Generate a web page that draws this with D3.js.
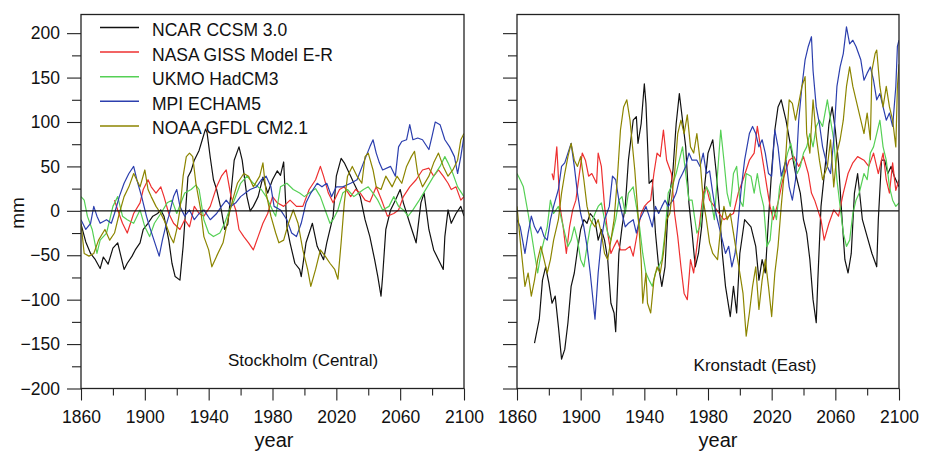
<!DOCTYPE html>
<html>
<head>
<meta charset="utf-8">
<script src="https://cdn.jsdelivr.net/npm/d3@7"></script>
<style>
  body { margin: 0; background: #fff; }
  svg { display: block; font-family: "Liberation Sans", Arial, sans-serif; }
</style>
</head>
<body>
<div id="chart"></div>
<script>
// sea level anomaly (mm) per model, [year, mm]
const seriesNames = ["NCAR CCSM 3.0", "NASA GISS Model E-R", "UKMO HadCM3", "MPI ECHAM5", "NOAA GFDL CM2.1"];
const seriesColors = ["#111111", "#ee3030", "#55d055", "#2c3fae", "#8c8500"];

const stockholmNcar = [[1860,-15],[1863,-35],[1866,-48],[1869,-55],[1872,-65],[1874,-52],[1877,-60],[1880,-42],[1883,-36],[1885,-51],[1887,-66],[1889,-59],[1892,-51],[1894,-44],[1897,-36],[1899,-21],[1902,-14],[1905,-6],[1908,-3],[1910,1],[1912,-6],[1915,-33],[1917,-59],[1919,-74],[1922,-78],[1924,-40],[1927,38],[1929,45],[1931,57],[1934,68],[1936,80],[1938,92],[1939,88],[1941,60],[1943,35],[1945,24],[1948,0],[1950,-21],[1952,-15],[1954,20],[1956,57],[1959,72],[1961,57],[1964,16],[1966,0],[1968,5],[1971,16],[1974,38],[1977,20],[1980,35],[1983,45],[1985,40],[1987,55],[1989,-18],[1991,-36],[1994,-59],[1997,-66],[1998,-74],[2001,-36],[2005,-14],[2008,-40],[2012,-55],[2014,-36],[2018,-6],[2020,39],[2023,59],[2025,54],[2029,39],[2031,31],[2035,16],[2038,-10],[2041,-29],[2044,-55],[2046,-74],[2048,-96],[2049,-74],[2051,-21],[2054,1],[2057,12],[2060,24],[2062,9],[2066,-14],[2070,-36],[2073,9],[2075,20],[2078,-21],[2081,-44],[2084,-55],[2087,-66],[2088,-29],[2090,1],[2092,-14],[2095,-3],[2098,5],[2100,-6]];
const stockholmNasa = [[1881,12],[1883,1],[1886,-14],[1889,-25],[1891,-14],[1893,-3],[1897,9],[1899,24],[1902,35],[1904,27],[1907,20],[1910,27],[1912,16],[1915,-3],[1918,-14],[1922,-21],[1925,-10],[1928,-18],[1931,5],[1934,-3],[1937,-6],[1941,5],[1945,27],[1948,39],[1951,46],[1954,16],[1957,1],[1959,-21],[1962,-29],[1965,-36],[1968,-44],[1971,-29],[1974,-14],[1977,-3],[1980,16],[1983,9],[1987,5],[1991,12],[1995,5],[1999,5],[2003,24],[2007,35],[2010,50],[2012,39],[2015,20],[2018,9],[2022,24],[2025,27],[2029,16],[2032,24],[2035,20],[2038,12],[2041,10],[2045,27],[2049,9],[2052,-6],[2056,-3],[2059,1],[2062,16],[2066,27],[2070,35],[2074,46],[2078,48],[2081,39],[2084,46],[2087,39],[2090,31],[2092,24],[2095,27],[2098,12],[2100,16]];
const stockholmUkmo = [[1860,16],[1862,12],[1864,-6],[1867,-21],[1870,-48],[1872,-33],[1876,-25],[1880,5],[1883,16],[1886,-6],[1889,-10],[1893,-14],[1897,1],[1900,-18],[1903,-29],[1906,-14],[1910,-3],[1914,9],[1917,12],[1920,-3],[1925,20],[1929,24],[1932,29],[1934,24],[1937,-10],[1940,-25],[1943,-29],[1947,-25],[1950,-14],[1953,1],[1956,12],[1960,31],[1964,39],[1968,31],[1973,24],[1976,16],[1980,1],[1982,-6],[1985,27],[1989,31],[1993,24],[1997,20],[2000,16],[2003,20],[2007,25],[2010,16],[2013,1],[2016,-14],[2018,-10],[2021,1],[2024,20],[2027,24],[2031,16],[2034,20],[2037,24],[2040,27],[2043,20],[2046,12],[2049,1],[2053,5],[2056,16],[2059,5],[2062,1],[2065,-6],[2068,1],[2072,12],[2077,27],[2081,39],[2085,50],[2088,61],[2090,54],[2093,42],[2096,27],[2100,16]];
const stockholmMpi = [[1860,-10],[1863,-21],[1866,-14],[1868,5],[1870,-6],[1872,-14],[1876,-10],[1879,-14],[1881,-3],[1884,16],[1887,31],[1890,42],[1893,50],[1895,35],[1898,16],[1901,-6],[1903,-18],[1905,-29],[1907,-40],[1909,-51],[1911,-33],[1913,-18],[1915,-6],[1918,16],[1920,24],[1922,5],[1925,-6],[1928,1],[1931,-10],[1934,-3],[1937,1],[1941,-10],[1945,-3],[1948,5],[1951,12],[1954,5],[1957,9],[1960,16],[1963,20],[1966,24],[1970,27],[1973,35],[1976,39],[1979,27],[1981,5],[1985,1],[1989,-10],[1992,-25],[1995,-29],[1998,-14],[2001,9],[2004,20],[2008,31],[2011,27],[2014,31],[2017,16],[2020,27],[2024,27],[2029,31],[2033,35],[2037,54],[2041,72],[2043,80],[2045,65],[2047,54],[2049,46],[2054,50],[2057,39],[2059,72],[2061,78],[2064,80],[2066,97],[2068,80],[2071,82],[2074,80],[2078,69],[2080,84],[2082,100],[2085,97],[2088,80],[2091,72],[2094,61],[2096,42],[2098,61],[2100,84]];
const stockholmNoaa = [[1860,-14],[1862,-48],[1865,-51],[1868,-48],[1871,-33],[1875,-21],[1878,-33],[1881,-25],[1884,-3],[1887,16],[1890,27],[1893,42],[1897,27],[1900,46],[1902,24],[1904,16],[1907,5],[1910,-3],[1913,-14],[1916,-29],[1918,-36],[1920,-21],[1922,1],[1924,39],[1926,61],[1928,65],[1930,61],[1932,31],[1935,1],[1937,-29],[1940,-44],[1942,-63],[1945,-51],[1949,-36],[1952,-10],[1955,12],[1958,31],[1962,42],[1965,39],[1968,27],[1972,39],[1974,54],[1976,20],[1979,-6],[1982,-25],[1984,-36],[1987,-33],[1990,-14],[1993,1],[1996,-14],[1999,-44],[2002,-66],[2004,-85],[2007,-66],[2010,-44],[2013,-51],[2016,-59],[2019,-66],[2021,-77],[2023,-36],[2025,9],[2027,39],[2030,50],[2033,39],[2036,31],[2038,61],[2040,65],[2043,46],[2045,27],[2048,24],[2051,39],[2055,27],[2058,39],[2061,31],[2064,50],[2067,61],[2069,67],[2071,42],[2074,27],[2078,39],[2081,54],[2084,65],[2087,50],[2090,39],[2093,46],[2096,57],[2098,80],[2100,87]];

const kronstadtNcar = [[1871,-149],[1874,-122],[1876,-78],[1878,-63],[1880,-81],[1882,-104],[1884,-96],[1886,-130],[1888,-167],[1890,-156],[1892,-126],[1894,-85],[1896,-70],[1898,-44],[1900,-21],[1902,-10],[1904,-14],[1906,-3],[1909,-10],[1911,-33],[1913,-21],[1915,-33],[1917,-55],[1919,-104],[1921,-115],[1922,-136],[1924,-48],[1926,-18],[1928,5],[1930,57],[1933,102],[1935,106],[1936,76],[1938,98],[1940,143],[1941,121],[1943,31],[1945,35],[1947,-25],[1949,-63],[1951,-85],[1953,-63],[1955,5],[1958,46],[1960,98],[1962,132],[1964,102],[1966,72],[1968,9],[1970,-25],[1972,-63],[1974,-48],[1976,-18],[1978,30],[1980,65],[1983,80],[1985,46],[1987,5],[1989,-48],[1991,-85],[1994,-119],[1996,-85],[1998,-115],[2000,-48],[2003,-10],[2007,-18],[2010,-40],[2012,-78],[2014,-55],[2016,-70],[2018,-10],[2020,46],[2022,91],[2024,117],[2026,125],[2029,102],[2032,72],[2035,42],[2038,20],[2040,-10],[2042,-25],[2044,-55],[2046,-100],[2048,-126],[2049,-78],[2051,5],[2054,57],[2056,98],[2058,117],[2060,91],[2062,54],[2064,-3],[2066,-55],[2068,-70],[2070,-48],[2072,20],[2074,42],[2077,-10],[2080,-29],[2083,-48],[2086,-63],[2087,-10],[2089,57],[2091,57],[2093,42],[2095,50],[2097,39],[2100,27]];
const kronstadtNasa = [[1882,42],[1883,35],[1885,72],[1887,5],[1889,-18],[1891,-48],[1893,-18],[1895,1],[1897,12],[1899,39],[1901,65],[1903,57],[1905,39],[1907,42],[1910,31],[1911,65],[1913,50],[1915,5],[1917,-25],[1919,-48],[1921,-40],[1923,-33],[1925,-44],[1928,-44],[1931,-40],[1933,-51],[1936,-21],[1938,-3],[1940,5],[1942,9],[1944,12],[1946,42],[1948,65],[1950,61],[1952,91],[1954,57],[1957,42],[1959,-3],[1961,-29],[1963,-63],[1965,-93],[1967,-100],[1969,-55],[1971,-70],[1973,-40],[1975,-10],[1977,20],[1979,27],[1981,12],[1984,5],[1987,-3],[1990,-10],[1993,-6],[1996,-3],[1999,20],[2002,35],[2006,57],[2009,65],[2011,95],[2013,72],[2015,50],[2017,27],[2019,5],[2021,-10],[2024,9],[2027,35],[2031,57],[2034,61],[2037,50],[2040,61],[2043,42],[2045,20],[2047,12],[2051,-10],[2053,-33],[2056,-14],[2059,1],[2062,-6],[2065,20],[2068,42],[2071,54],[2074,61],[2078,57],[2081,50],[2084,65],[2087,42],[2090,65],[2092,35],[2094,20],[2096,54],[2098,23],[2100,35]];
const kronstadtUkmo = [[1860,42],[1862,35],[1864,27],[1867,-3],[1869,-25],[1871,-48],[1873,-70],[1875,-48],[1877,-33],[1879,-18],[1881,12],[1883,-3],[1886,5],[1888,-10],[1890,-25],[1892,-40],[1894,-33],[1896,-18],[1898,-33],[1900,-55],[1902,-63],[1904,-40],[1906,-18],[1909,-3],[1911,5],[1913,9],[1915,-10],[1917,-25],[1919,-33],[1922,-10],[1924,12],[1926,16],[1928,-3],[1930,20],[1933,27],[1935,5],[1937,-18],[1939,-48],[1941,-70],[1943,-78],[1945,-85],[1947,-70],[1949,-63],[1951,-55],[1953,-25],[1955,20],[1958,31],[1960,42],[1962,57],[1964,72],[1966,42],[1968,12],[1970,12],[1973,-25],[1975,-18],[1977,12],[1979,27],[1981,20],[1984,-10],[1986,42],[1988,91],[1990,57],[1992,20],[1994,5],[1996,42],[1998,50],[2000,12],[2002,5],[2004,42],[2007,39],[2009,20],[2011,42],[2013,20],[2015,5],[2017,-40],[2019,-33],[2021,5],[2023,-10],[2025,27],[2027,42],[2030,65],[2032,76],[2034,57],[2036,42],[2038,50],[2040,65],[2042,72],[2044,87],[2046,72],[2048,95],[2050,102],[2052,95],[2055,125],[2057,102],[2059,80],[2061,35],[2063,5],[2065,-25],[2067,-40],[2069,-33],[2071,-3],[2073,12],[2075,20],[2078,42],[2080,35],[2082,65],[2084,72],[2086,87],[2088,102],[2090,72],[2092,57],[2094,27],[2096,12],[2098,5],[2100,9]];
const kronstadtMpi = [[1860,-10],[1862,-18],[1865,-48],[1867,-25],[1869,-6],[1871,-18],[1873,-25],[1875,-18],[1877,-29],[1879,-33],[1881,-10],[1883,5],[1886,24],[1888,50],[1890,54],[1892,65],[1894,76],[1896,50],[1898,20],[1900,-3],[1902,-18],[1904,-40],[1906,-70],[1909,-122],[1911,-70],[1913,-33],[1915,-10],[1918,5],[1920,39],[1922,35],[1924,12],[1926,-3],[1928,-18],[1930,-14],[1933,-10],[1935,-25],[1937,-10],[1939,-3],[1941,5],[1943,-6],[1945,-18],[1947,5],[1949,-3],[1951,5],[1953,12],[1955,5],[1958,12],[1960,20],[1962,35],[1964,42],[1966,50],[1968,65],[1970,57],[1973,57],[1975,50],[1977,65],[1979,42],[1981,45],[1983,20],[1985,-3],[1987,-18],[1989,-33],[1991,-48],[1993,-40],[1995,-63],[1997,-48],[1999,-10],[2001,27],[2003,57],[2006,87],[2008,95],[2010,87],[2012,72],[2014,80],[2016,65],[2018,42],[2020,39],[2022,91],[2024,72],[2026,39],[2029,57],[2031,27],[2033,12],[2035,35],[2037,102],[2039,140],[2041,170],[2043,185],[2045,196],[2046,158],[2048,117],[2050,98],[2052,72],[2055,50],[2057,42],[2059,80],[2061,140],[2063,162],[2065,177],[2067,207],[2069,188],[2071,192],[2073,185],[2076,170],[2078,147],[2080,155],[2082,162],[2084,147],[2086,125],[2088,132],[2090,117],[2092,102],[2094,110],[2096,95],[2098,140],[2099,185],[2100,192]];
const kronstadtNoaa = [[1860,5],[1862,-33],[1865,-85],[1867,-70],[1869,-96],[1871,-78],[1873,-55],[1875,-40],[1877,-55],[1879,-70],[1881,-55],[1883,-33],[1886,-10],[1888,20],[1890,42],[1892,61],[1894,76],[1896,57],[1898,50],[1900,61],[1902,35],[1904,5],[1906,-10],[1909,-18],[1911,-10],[1913,-25],[1915,-48],[1917,-55],[1919,-33],[1921,-10],[1923,35],[1925,91],[1927,117],[1929,125],[1931,102],[1934,46],[1936,-3],[1938,-55],[1939,-104],[1941,-70],[1942,-104],[1944,-115],[1946,-78],[1948,-63],[1950,-70],[1952,-48],[1954,-10],[1956,-3],[1959,42],[1961,87],[1963,102],[1965,87],[1967,108],[1969,72],[1971,65],[1973,87],[1975,57],[1977,12],[1979,-10],[1981,-36],[1983,-48],[1986,-55],[1988,-18],[1990,5],[1992,-10],[1994,-3],[1996,-25],[1998,-48],[2000,-70],[2002,-93],[2004,-141],[2006,-115],[2008,-85],[2010,-63],[2012,-111],[2014,-78],[2016,-55],[2018,-85],[2020,-119],[2022,-70],[2024,-40],[2026,5],[2029,65],[2031,125],[2033,121],[2035,102],[2037,121],[2039,140],[2041,151],[2042,87],[2044,65],[2046,125],[2048,84],[2050,57],[2052,35],[2055,50],[2057,80],[2059,27],[2061,65],[2063,80],[2065,102],[2067,140],[2069,162],[2071,140],[2073,125],[2076,102],[2078,87],[2080,110],[2082,80],[2083,158],[2085,177],[2086,181],[2088,140],[2090,117],[2092,140],[2094,117],[2096,102],[2098,72],[2099,140],[2100,165]];

const yMajorTicks = [-200, -150, -100, -50, 0, 50, 100, 150, 200];
const yMinorTicks = [-175, -125, -75, -25, 25, 75, 125, 175];
const xMajorTicks = [1860, 1900, 1940, 1980, 2020, 2060, 2100];
const xMinorTicks = [1880, 1920, 1960, 2000, 2040, 2080];

const panels = [
  { name: "Stockholm (Central)", left: 81, right: 464, labels: true,
    series: [stockholmNcar, stockholmNasa, stockholmUkmo, stockholmMpi, stockholmNoaa],
    titleX: 303, titleY: 366, yearX: 274 },
  { name: "Kronstadt (East)", left: 517, right: 899, labels: false,
    series: [kronstadtNcar, kronstadtNasa, kronstadtUkmo, kronstadtMpi, kronstadtNoaa],
    titleX: 755, titleY: 371, yearX: 718 }
];

const width = 926;
const height = 454;
const plotTop = 14.5;
const plotBottom = 388.5;

const svg = d3.select("#chart")
  .append("svg")
  .attr("width", width)
  .attr("height", height);

const yScale = d3.scaleLinear()
  .domain([-200, 221])
  .range([plotBottom, plotTop]);

panels.forEach((p, pi) => {
  const xScale = d3.scaleLinear()
    .domain([1860, 2100])
    .range([p.left, p.right]);

  const g = svg.append("g");

  const clipId = "clip" + pi;
  g.append("clipPath").attr("id", clipId)
    .append("rect")
    .attr("x", p.left).attr("y", plotTop)
    .attr("width", p.right - p.left).attr("height", plotBottom - plotTop);

  const line = d3.line()
    .x(d => xScale(d[0]))
    .y(d => yScale(d[1]));

  const lines = g.append("g").attr("clip-path", `url(#${clipId})`);
  p.series.forEach((s, i) => {
    lines.append("path")
      .datum(s)
      .attr("d", line)
      .attr("fill", "none")
      .attr("stroke", seriesColors[i])
      .attr("stroke-width", 1.2)
      .attr("stroke-linejoin", "round");
  });

  // zero reference line
  g.append("line")
    .attr("x1", p.left).attr("x2", p.right)
    .attr("y1", yScale(0)).attr("y2", yScale(0))
    .attr("stroke", "#111")
    .attr("stroke-width", 1.2);

  // y axis, major and minor ticks
  const yMajor = g.append("g")
    .attr("transform", `translate(${p.left},0)`)
    .call(d3.axisLeft(yScale).tickValues(yMajorTicks).tickSize(14).tickPadding(7)
      .tickFormat(p.labels ? d3.format("d") : () => ""));
  const yMinor = g.append("g")
    .attr("transform", `translate(${p.left},0)`)
    .call(d3.axisLeft(yScale).tickValues(yMinorTicks).tickSize(9).tickFormat(() => ""));

  // x axis
  const xMajor = g.append("g")
    .attr("transform", `translate(0,${plotBottom})`)
    .call(d3.axisBottom(xScale).tickValues(xMajorTicks).tickSize(12).tickPadding(10)
      .tickFormat(d3.format("d")));
  const xMinor = g.append("g")
    .attr("transform", `translate(0,${plotBottom})`)
    .call(d3.axisBottom(xScale).tickValues(xMinorTicks).tickSize(7).tickFormat(() => ""));

  [yMajor, yMinor, xMajor, xMinor].forEach(a => {
    a.select(".domain").remove();
    a.selectAll("line").attr("stroke", "#222").attr("stroke-width", 1.1);
    a.selectAll("text")
      .attr("fill", "#111")
      .style("font-size", "17.5px")
      .style("font-family", "'Liberation Sans', Arial, sans-serif");
  });

  // frame
  g.append("rect")
    .attr("x", p.left).attr("y", plotTop)
    .attr("width", p.right - p.left).attr("height", plotBottom - plotTop)
    .attr("fill", "none")
    .attr("stroke", "#222")
    .attr("stroke-width", 1.3);

  g.append("text")
    .attr("x", p.titleX).attr("y", p.titleY)
    .attr("text-anchor", "middle")
    .style("font-size", "17px")
    .attr("fill", "#111")
    .text(p.name);

  g.append("text")
    .attr("x", p.yearX).attr("y", 447)
    .attr("text-anchor", "middle")
    .style("font-size", "20px")
    .attr("fill", "#111")
    .text("year");
});

svg.append("text")
  .attr("transform", "rotate(-90)")
  .attr("x", -213)
  .attr("y", 24)
  .attr("text-anchor", "middle")
  .style("font-size", "19px")
  .attr("fill", "#111")
  .text("mm");

// legend
const legend = svg.append("g");
seriesNames.forEach((n, i) => {
  const ly = 27.5 + i * 24.6;
  legend.append("line")
    .attr("x1", 100).attr("x2", 139)
    .attr("y1", ly).attr("y2", ly)
    .attr("stroke", seriesColors[i])
    .attr("stroke-width", 1.5);
  legend.append("text")
    .attr("x", 152).attr("y", ly + 8.5)
    .style("font-size", "17.5px")
    .attr("fill", "#111")
    .text(n);
});
</script>
</body>
</html>
